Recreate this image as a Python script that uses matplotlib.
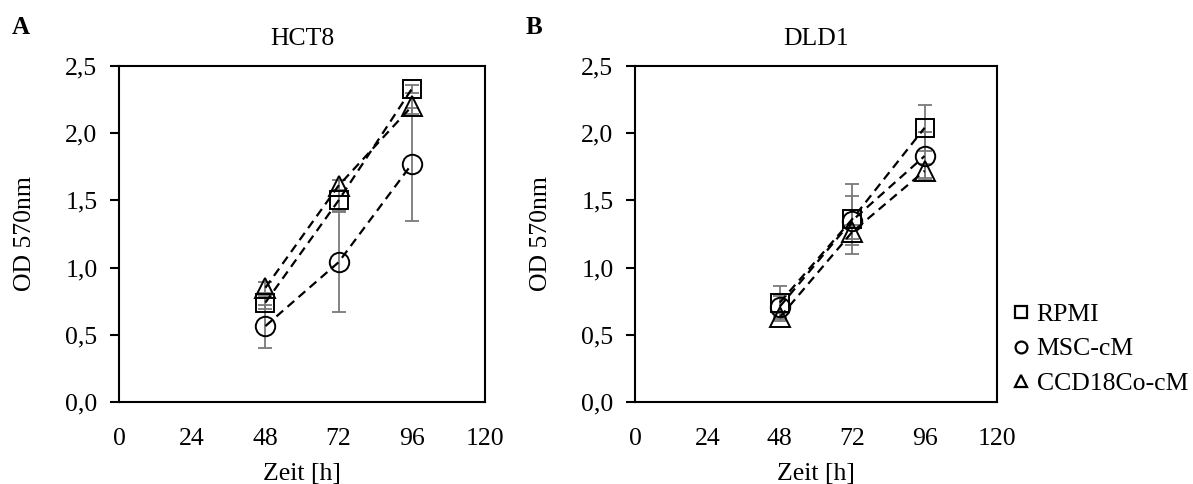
import matplotlib
matplotlib.use("Agg")
import matplotlib.pyplot as plt
from matplotlib.lines import Line2D

plt.rcParams['font.family'] = ['Liberation Serif', 'DejaVu Serif']

hours = [48, 72, 96]
xticks = [0, 24, 48, 72, 96, 120]
yticks = [0.0, 0.5, 1.0, 1.5, 2.0, 2.5]
series = ['RPMI', 'MSC-cM', 'CCD18Co-cM']
markers = ['s', 'o', '^']

# HCT8
hct8_rpmi = [0.74, 1.50, 2.33]
hct8_rpmi_err = [0.05, 0.08, 0.03]
hct8_msc = [0.565, 1.04, 1.77]
hct8_msc_err = [0.16, 0.37, 0.42]
hct8_ccd = [0.85, 1.61, 2.20]
hct8_ccd_err = [0.04, 0.04, 0.06]

# DLD1
dld1_rpmi = [0.74, 1.36, 2.04]
dld1_rpmi_err = [0.12, 0.26, 0.17]
dld1_msc = [0.71, 1.35, 1.83]
dld1_msc_err = [0.08, 0.18, 0.18]
dld1_ccd = [0.63, 1.265, 1.72]
dld1_ccd_err = [0.03, 0.05, 0.05]

W, H = 1193, 484
fig = plt.figure(figsize=(W / 100, H / 100), dpi=100)

ax1 = fig.add_axes([119 / W, 1 - 402 / H, 366 / W, 336 / H])
ax2 = fig.add_axes([635 / W, 1 - 402 / H, 362 / W, 336 / H])

panels = [
    (ax1, 'HCT8', [(hct8_rpmi, hct8_rpmi_err), (hct8_msc, hct8_msc_err), (hct8_ccd, hct8_ccd_err)], 366),
    (ax2, 'DLD1', [(dld1_rpmi, dld1_rpmi_err), (dld1_msc, dld1_msc_err), (dld1_ccd, dld1_ccd_err)], 362),
]

def fmt(v):
    return ('%.1f' % v).replace('.', ',')

for ax, title, data, wpx in panels:
    for (vals, errs), m in zip(data, markers):
        ax.errorbar(hours, vals, yerr=errs, fmt='none', ecolor='#7a7a7a',
                    elinewidth=1.3, capsize=5, capthick=1.3, zorder=3)
        ms = 13 if m == 's' else 14
        ax.plot(hours, vals, color='black', linestyle=(0, (4, 2.6)), linewidth=1.6,
                marker=m, markersize=ms, markerfacecolor='none',
                markeredgecolor='black', markeredgewidth=1.4, zorder=4)
    ax.set_xlim(0, 120)
    ax.set_ylim(0, 2.5)
    ax.set_xticks(xticks)
    ax.set_xticklabels([str(t) for t in xticks])
    ax.set_yticks(yticks)
    ax.set_yticklabels([fmt(t) for t in yticks])
    ax.tick_params(axis='x', length=0, pad=19, labelsize=18.5)
    ax.tick_params(axis='y', length=6.5, width=1.5, pad=9, labelsize=18.5)
    for sp in ax.spines.values():
        sp.set_linewidth(1.5)
    ax.set_title(title, fontsize=18.5, pad=15)
    ax.set_ylabel('OD 570nm', fontsize=18.5, va='center')
    ax.yaxis.set_label_coords(-94 / wpx, 0.5)
    ax.set_xlabel('Zeit [h]', fontsize=18.5, va='center')
    ax.xaxis.set_label_coords(0.5, -(474 - 402) / 336)

fig.text(12 / W, 1 - 27 / H, 'A', fontsize=18, fontweight='bold', va='center')
fig.text(526 / W, 1 - 27 / H, 'B', fontsize=18, fontweight='bold', va='center')

handles = [Line2D([], [], linestyle='none', marker=m, markersize=8.5 if m != 's' else 8,
                  markerfacecolor='none', markeredgecolor='black', markeredgewidth=1.6)
           for m in markers]
fig.legend(handles, series, loc='center left', bbox_to_anchor=(1011 / W, 1 - 349 / H),
           frameon=False, fontsize=18.5, borderpad=0, borderaxespad=0,
           handlelength=0.8, handletextpad=0.2, labelspacing=0.45)

fig.savefig('out.png', dpi=100)
